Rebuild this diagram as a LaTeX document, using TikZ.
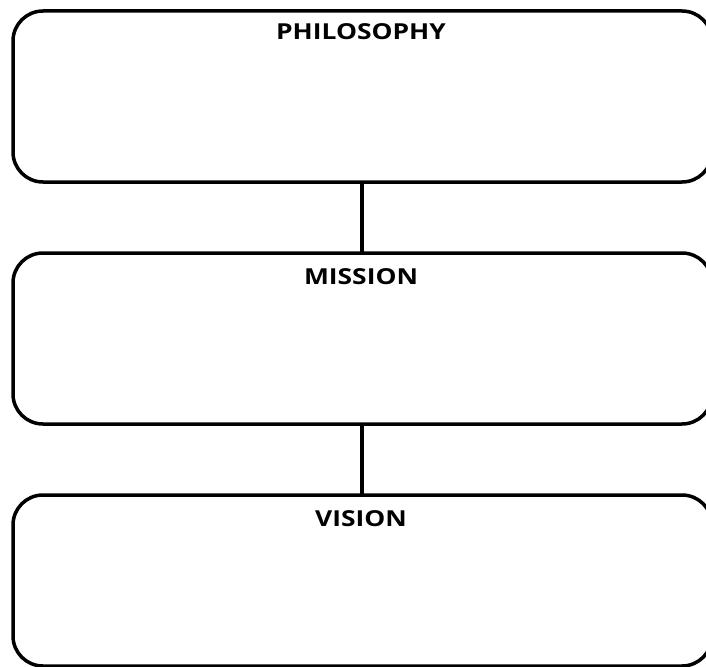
\documentclass[tikz,border=0pt]{standalone}
\usepackage{fontspec}
\setmainfont{Open Sans}
\begin{document}
\begin{tikzpicture}[x=1pt,y=-1pt,
  panel/.style={draw=black,line width=3.5pt,rounded corners=30pt,inner sep=0pt,outer sep=0pt,
    minimum width=699pt,minimum height=171pt},
  title/.style={font=\fontsize{22}{24}\selectfont\bfseries,anchor=base,inner sep=0pt},
  link/.style={draw=black,line width=3.5pt}]
\useasboundingbox (0,0) rectangle (706,666);
\node[panel] (philo) at (362.5,96.5) {};
\node[panel] (mission) at (362.5,338.5) {};
\node[panel] (vision) at (362.5,580.5) {};
\node[title] (t1) at (361,40) {\scalebox{1.2}[1]{PHILOSOPHY}};
\node[title] (t2) at (361,284) {\scalebox{1.2}[1]{MISSION}};
\node[title] (t3) at (361,526) {\scalebox{1.2}[1]{VISION}};
\draw[link] (philo.south -| 362,0) -- (mission.north -| 362,0);
\draw[link] (mission.south -| 362,0) -- (vision.north -| 362,0);
\end{tikzpicture}
\end{document}
